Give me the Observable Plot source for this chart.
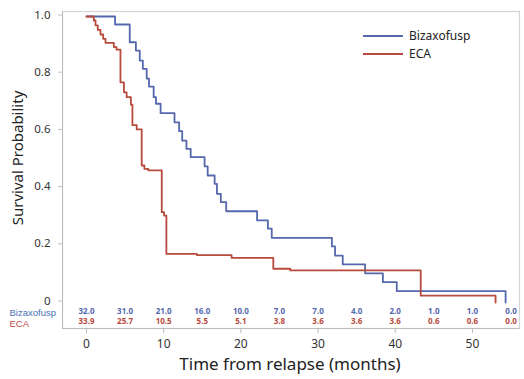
<!DOCTYPE html>
<html><head><meta charset="utf-8">
<script src="https://cdn.jsdelivr.net/npm/d3@7"></script>
<script src="https://cdn.jsdelivr.net/npm/@observablehq/plot@0.6"></script>
<style>
body{margin:0;background:#fff;font-family:"Noto Sans",sans-serif;}
#wrap{position:relative;width:524px;height:379px;overflow:hidden;}
.abs{position:absolute;white-space:nowrap;}
</style></head><body><div id="wrap"></div>
<script>
const seriesNames = ["Bizaxofusp", "ECA"];
const seriesColors = ["#5568ae", "#b84a3c"];
const bizTimes = [0, 3.7, 5.6, 6.4, 6.9, 7.3, 7.8, 8.1, 8.7, 9.0, 9.6, 11.4, 12.0, 12.4, 12.95, 13.5, 15.3, 15.7, 16.6, 16.9, 17.4, 18.1, 22.1, 23.5, 24.0, 31.8, 32.2, 33.2, 36.1, 38.4, 40.2, 54.3];
const bizSurv  = [1.0, 0.972, 0.91, 0.881, 0.846, 0.817, 0.783, 0.755, 0.718, 0.695, 0.662, 0.630, 0.599, 0.566, 0.537, 0.508, 0.476, 0.444, 0.415, 0.380, 0.351, 0.319, 0.287, 0.258, 0.226, 0.196, 0.164, 0.133, 0.102, 0.071, 0.040, 0.0];
const ecaTimes = [0, 0.95, 1.17, 1.46, 1.81, 2.16, 2.46, 3.54, 3.89, 4.4, 4.85, 5.2, 5.75, 5.95, 6.5, 7.15, 7.5, 8.0, 9.75, 10.05, 10.35, 14.3, 18.8, 24.2, 26.4, 43.3, 53.0];
const ecaSurv  = [1.0, 0.986, 0.969, 0.953, 0.937, 0.922, 0.908, 0.893, 0.884, 0.770, 0.735, 0.718, 0.692, 0.620, 0.605, 0.479, 0.467, 0.462, 0.316, 0.304, 0.170, 0.166, 0.156, 0.118, 0.112, 0.024, 0.0];
const riskTimes = [0, 5, 10, 15, 20, 25, 30, 35, 40, 45, 50, 55];
const bizRisk = [32.0, 31.0, 21.0, 16.0, 10.0, 7.0, 7.0, 4.0, 2.0, 1.0, 1.0, 0.0];
const ecaRisk = [33.9, 25.7, 10.5, 5.5, 5.1, 3.8, 3.6, 3.6, 3.6, 0.6, 0.6, 0.0];
const xTicks = [0, 10, 20, 30, 40, 50];
const yTicks = [0, 0.2, 0.4, 0.6, 0.8, 1.0];
const xTitle = "Time from relapse (months)";
const yTitle = "Survival Probability";

const curves = [
  ...bizTimes.map((t, i) => ({t, s: bizSurv[i], series: seriesNames[0]})),
  ...ecaTimes.map((t, i) => ({t, s: ecaSurv[i], series: seriesNames[1]}))
];
const bizRows = riskTimes.map((t, i) => ({t, v: bizRisk[i]}));
const ecaRows = riskTimes.map((t, i) => ({t, v: ecaRisk[i]}));

const chart = Plot.plot({
  width: 524, height: 379,
  marginLeft: 62, marginRight: 5, marginTop: 11, marginBottom: 51,
  style: {fontFamily: '"Noto Sans", sans-serif', background: "#fff"},
  x: {domain: [-3.11, 56.1]},
  y: {domain: [-0.0909, 1.0175]},
  color: {domain: seriesNames, range: seriesColors},
  marks: [
    Plot.frame({stroke: "#d4d4d4", strokeWidth: 1.2}),
    Plot.axisY({ticks: yTicks, tickFormat: d => d === 0 ? "0" : d.toFixed(1), tickSize: 4, tickPadding: 8, stroke: "#c4c4c4", fill: "#333", fontSize: 11.5, dy: -1.5, label: null}),
    Plot.axisX({ticks: xTicks, tickSize: 5, tickPadding: 6, stroke: "#bbb", fill: "#333", fontSize: 12, label: null}),
    Plot.ruleX([-3.11], {stroke: "#bdbdbd"}),
    Plot.ruleY([-0.0909], {stroke: "#bdbdbd"}),
    Plot.line(curves, {x: "t", y: "s", z: "series", stroke: "series", curve: "step-after", strokeWidth: 1.8}),
    Plot.text(bizRows, {x: "t", frameAnchor: "bottom", dy: -15, text: d => d.v.toFixed(1), fill: seriesColors[0], fontSize: 8, fontWeight: "bold"}),
    Plot.text(ecaRows, {x: "t", frameAnchor: "bottom", dy: -5, text: d => d.v.toFixed(1), fill: seriesColors[1], fontSize: 8, fontWeight: "bold"}),
    Plot.text([seriesNames[0]], {frameAnchor: "bottom-left", dx: -53, dy: -12.5, textAnchor: "start", fill: "#4a72b8", fontSize: 9.5, fontFamily: '"Liberation Sans", Arial, sans-serif'}),
    Plot.text([seriesNames[1]], {frameAnchor: "bottom-left", dx: -53, dy: -2, textAnchor: "start", fill: "#c0504d", fontSize: 9.5, fontFamily: '"Liberation Sans", Arial, sans-serif'})
  ]
});
const wrap = document.getElementById("wrap");
wrap.appendChild(chart);

// axis titles
const yt = document.createElement("div");
yt.className = "abs";
yt.textContent = yTitle;
Object.assign(yt.style, {left: "-83px", top: "148px", width: "200px", height: "20px", lineHeight: "20px", textAlign: "center", fontSize: "15px", color: "#222", transform: "rotate(-90deg)"});
wrap.appendChild(yt);
const xt = document.createElement("div");
xt.className = "abs";
xt.textContent = xTitle;
Object.assign(xt.style, {left: "140px", top: "353px", width: "300px", textAlign: "center", fontSize: "17px", color: "#222", lineHeight: "22px"});
wrap.appendChild(xt);

// legend
seriesNames.forEach((name, i) => {
  const ln = document.createElement("div");
  ln.className = "abs";
  Object.assign(ln.style, {left: "363px", top: (35 + i * 18) + "px", width: "40px", height: "2px", background: seriesColors[i]});
  wrap.appendChild(ln);
  const tx = document.createElement("div");
  tx.className = "abs";
  tx.textContent = name;
  Object.assign(tx.style, {left: "409px", top: (27 + i * 18) + "px", fontSize: "12px", color: "#222", lineHeight: "18px"});
  wrap.appendChild(tx);
});
</script></body></html>
